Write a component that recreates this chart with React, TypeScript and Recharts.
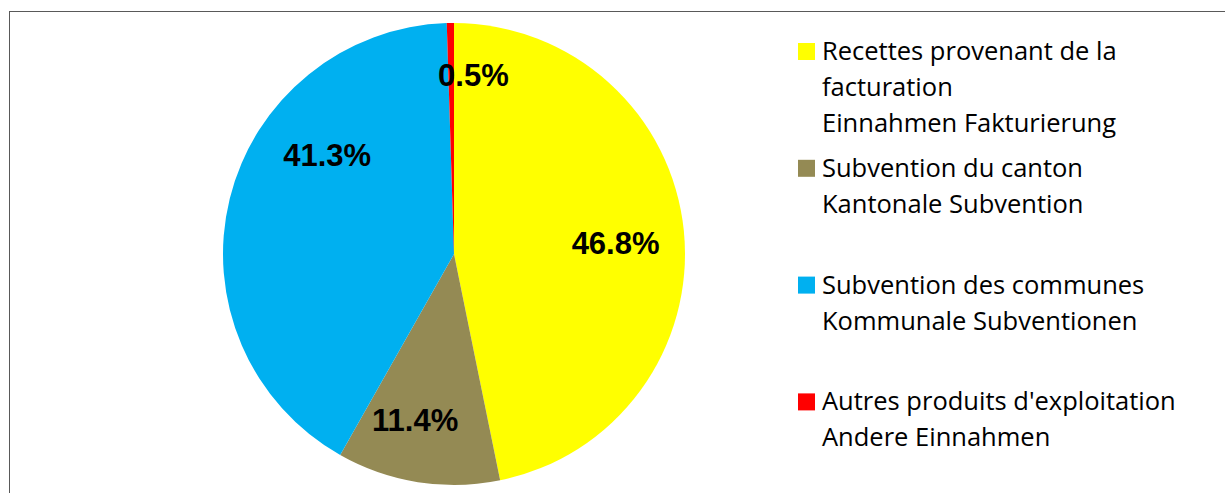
import React from 'react';
import { PieChart, Pie, Cell, Legend } from 'recharts';

const categories = [
  'Recettes provenant de la facturation',
  'Subvention du canton',
  'Subvention des communes',
  "Autres produits d'exploitation",
];
const legendLines = [
  ['Recettes provenant de la', 'facturation', 'Einnahmen Fakturierung'],
  ['Subvention du canton', 'Kantonale Subvention'],
  ['Subvention des communes', 'Kommunale Subventionen'],
  ["Autres produits d'exploitation", 'Andere Einnahmen'],
];
const shares = [46.8, 11.4, 41.3, 0.5];
const colors = ['#FFFF00', '#948A54', '#00B0F0', '#FF0000'];

const data = categories.map((name, i) => ({ name, value: shares[i] }));

const RAD = Math.PI / 180;
const labelAdjust = [
  { da: -1.7, r: 162 },
  { da: -4.2, r: 170 },
  { da: -24.2, r: 161 },
  { da: -7.1, r: 180 },
];

const renderLabel = (props: any) => {
  const { cx, cy, midAngle, index, value } = props;
  const adj = labelAdjust[index] || { da: 0, r: 165 };
  const a = (midAngle + adj.da) * RAD;
  const x = cx + adj.r * Math.cos(a);
  const y = cy - adj.r * Math.sin(a);
  return (
    <text
      x={x}
      y={y + 11}
      textAnchor="middle"
      fontFamily="'Liberation Sans', Arial, sans-serif"
      fontWeight="bold"
      fontSize={31}
      fill="#000"
    >
      {Number(value).toFixed(1)}%
    </text>
  );
};

const renderLegend = () => {
  return (
    <svg width={1225} height={493} style={{ position: 'absolute', left: 0, top: 0 }}>
      {categories.map((name, i) => {
        const base = 60 + i * 116.8;
        const lines = legendLines[i] || [name];
        return (
          <g key={name}>
            <rect x={798} y={base - 17} width={17} height={17} fill={colors[i]} />
            {lines.map((ln, j) => (
              <text
                key={j}
                x={822}
                y={base + j * 36}
                fontFamily="'Open Sans', 'Noto Sans', sans-serif"
                fontSize={25.5}
                fill="#000"
              >
                {ln}
              </text>
            ))}
          </g>
        );
      })}
    </svg>
  );
};

export default function App() {
  return (
    <div
      style={{
        position: 'absolute',
        left: 0,
        top: 0,
        width: 1225,
        height: 493,
        overflow: 'hidden',
        background: '#fff',
      }}
    >
      <div
        style={{
          position: 'absolute',
          left: 9,
          top: 11,
          width: 1400,
          height: 700,
          borderLeft: '1px solid #595959',
          borderTop: '1px solid #595959',
        }}
      />
      <div style={{ position: 'absolute', left: 0, top: 0 }}>
        <PieChart width={1225} height={493} margin={{ top: 0, right: 0, bottom: 0, left: 0 }}>
          <Pie
            data={data}
            dataKey="value"
            nameKey="name"
            cx={454}
            cy={254}
            outerRadius={231}
            startAngle={90}
            endAngle={-270}
            stroke="none"
            labelLine={false}
            label={renderLabel}
            isAnimationActive={false}
          >
            {data.map((d, i) => (
              <Cell key={d.name} fill={colors[i]} />
            ))}
          </Pie>
          <Legend
            content={renderLegend}
            wrapperStyle={{ left: 0, top: 0, width: 1225, height: 493 }}
          />
        </PieChart>
      </div>
    </div>
  );
}
